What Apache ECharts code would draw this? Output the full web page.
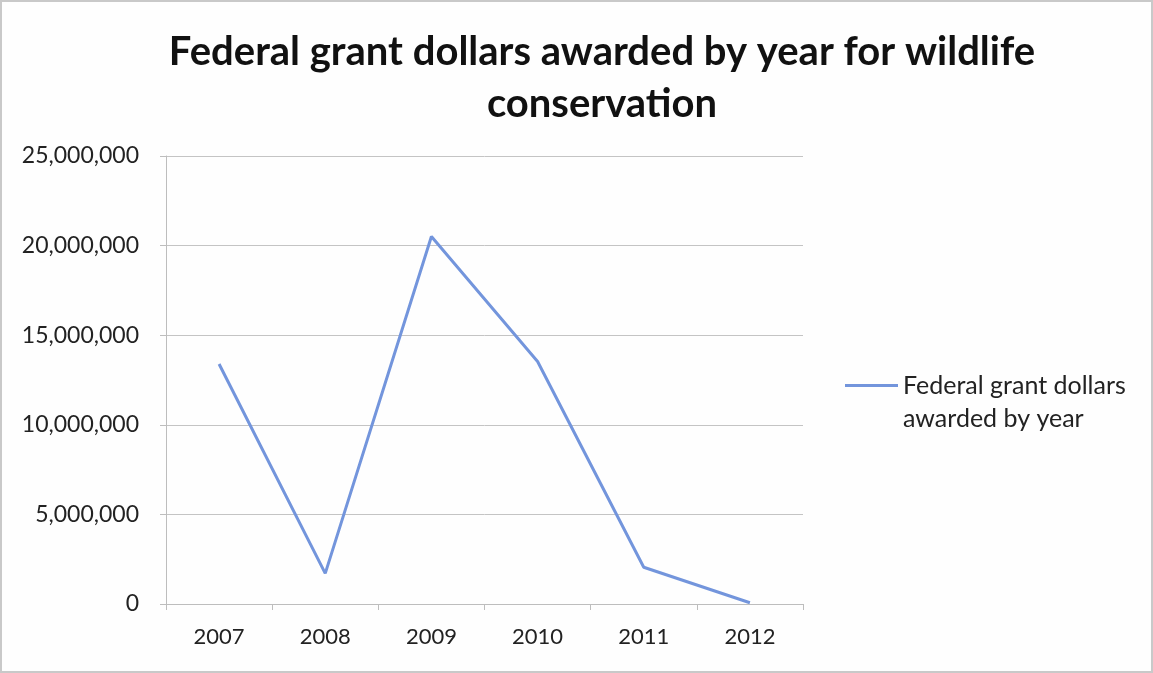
<!DOCTYPE html>
<html>
<head>
<meta charset="utf-8">
<script src="https://cdn.jsdelivr.net/npm/echarts@6/dist/echarts.min.js"></script>
<style>
  html, body { margin: 0; padding: 0; background: #ffffff; }
  #chart { width: 1153px; height: 673px; }
</style>
</head>
<body>
<div id="chart"></div>
<script>
// Grant dollars per fiscal year
const years = ['2007', '2008', '2009', '2010', '2011', '2012'];
const grantDollars = [13390000, 1710000, 20510000, 13530000, 2050000, 70000];
const seriesName = 'Federal grant dollars awarded by year';
const yTicks = { min: 0, max: 25000000, interval: 5000000 };

const FONT = 'Lato';
const chart = echarts.init(document.getElementById('chart'));

chart.setOption({
  backgroundColor: '#fefefe',
  animation: false,
  title: {
    text: 'Federal grant dollars awarded by year for wildlife\nconservation',
    left: 597,
    textAlign: 'center',
    top: 21,
    textStyle: {
      fontFamily: FONT,
      fontWeight: 'bold',
      fontSize: 40,
      lineHeight: 52,
      color: '#111111'
    }
  },
  legend: {
    left: 845,
    top: 336,
    padding: 0,
    icon: 'rect',
    itemWidth: 53,
    itemHeight: 3,
    itemGap: 0,
    // a blank first line keeps the swatch level with the first text line
    formatter: () => ' \nFederal grant dollars\nawarded by year',
    textStyle: {
      fontFamily: FONT,
      fontSize: 25,
      lineHeight: 33,
      color: '#222222'
    },
    data: [{ name: seriesName }]
  },
  graphic: [{
    type: 'rect',
    silent: true,
    shape: { x: 1, y: 1, width: 1151, height: 671 },
    style: { fill: 'none', stroke: '#c9c9c9', lineWidth: 2 }
  }],
  grid: {
    left: 166,
    right: 350,
    top: 156,
    bottom: 69,
    containLabel: false
  },
  xAxis: {
    type: 'category',
    data: years,
    boundaryGap: true,
    axisLine: { lineStyle: { color: '#bdbdbd', width: 1 } },
    axisTick: { show: true, length: 6, lineStyle: { color: '#bdbdbd' } },
    axisLabel: {
      margin: 22,
      fontFamily: FONT,
      fontSize: 22,
      color: '#222222'
    }
  },
  yAxis: {
    type: 'value',
    min: yTicks.min,
    max: yTicks.max,
    interval: yTicks.interval,
    axisLine: { show: true, lineStyle: { color: '#bdbdbd', width: 1 } },
    axisTick: { show: true, length: 6, lineStyle: { color: '#bdbdbd' } },
    splitLine: { lineStyle: { color: '#c4c4c4', width: 1 } },
    axisLabel: {
      margin: 27,
      fontFamily: FONT,
      fontSize: 23,
      color: '#222222',
      formatter: v => v.toLocaleString('en-US')
    }
  },
  series: [{
    name: seriesName,
    type: 'line',
    data: grantDollars,
    symbol: 'none',
    lineStyle: { color: '#7395dc', width: 3 },
    itemStyle: { color: '#7395dc' }
  }]
});
</script>
</body>
</html>
